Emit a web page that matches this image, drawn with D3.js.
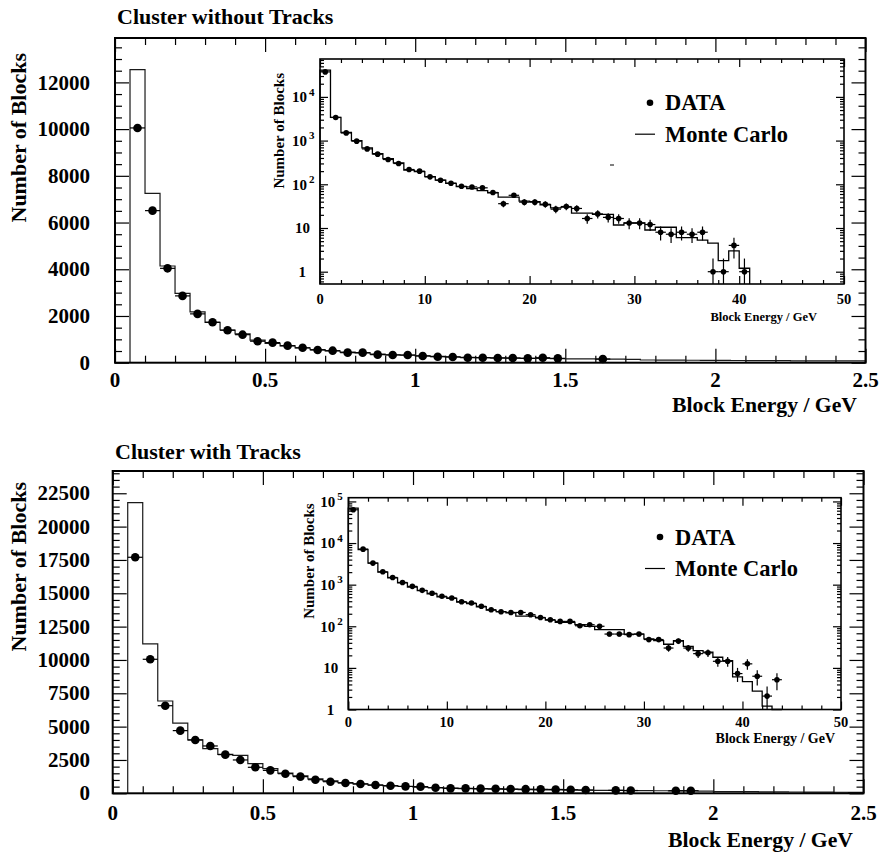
<!DOCTYPE html>
<html>
<head>
<meta charset="utf-8">
<script src="https://cdn.jsdelivr.net/npm/d3@7"></script>
<style>
  body { margin: 0; background: #fff; }
  svg { display: block; }
  text { font-family: "Liberation Serif", "Times New Roman", serif; font-weight: bold; fill: #000; }
</style>
</head>
<body>
<svg id="chart" width="880" height="853"></svg>
<script>
// ---------------- data ----------------
// main histograms: 0.05 GeV bins starting at 0.05 GeV
const mainBinStart = 0.05;
const mainBinWidth = 0.05;

const topMainMC = [12550, 7250, 4140, 2970, 2180, 1730, 1400, 1230, 970, 830,
  720, 630, 560, 500, 450, 420, 370, 340, 320, 290,
  270, 250, 230, 215, 205, 195, 185, 180, 170, 165,
  160, 155, 150, 145, 115, 112, 110, 105, 100, 98,
  95, 90, 88, 85, 82, 80, 78, 76, 74];
const topMainData = [10050, 6510, 4040, 2860, 2090, 1730, 1390, 1200, 920, 860,
  730, 640, 545, 515, 430, 430, 345, 330, 330, 290,
  255, 245, 215, 215, 200, 200, 186, 214, 186, null,
  null, 158, null, null, null, null, null, null, null, null,
  null, null, null, null, null, null, null, null, null];

const bottomMainMC = [21800, 11200, 6920, 5270, 4000, 3350, 2920, 2850, 2220, 1850,
  1520, 1300, 1080, 930, 800, 700, 620, 560, 510, 460,
  420, 385, 355, 330, 310, 290, 275, 262, 250, 240,
  230, 220, 212, 205, 198, 190, 182, 175, 168, 130,
  125, 120, 112, 105, 98, 92, 86, 80, 75];
const bottomMainData = [17700, 10050, 6570, 4700, 4000, 3550, 2900, 2500, 1950, 1720,
  1470, 1250, 1020, 870, 770, 700, 620, 570, 520, 500,
  420, 370, 370, 350, 340, 320, 310, 300, 290, 270,
  250, null, 220, 210, null, null, 195, 190, null, null,
  null, null, null, null, null, null, null, null, null];

// insets: 1 GeV bins starting at 0 GeV
const insetBinStart = 0;
const insetBinWidth = 1;

const topInsetMC = [41000, 3400, 1530, 1000, 680, 500, 385, 310, 210, 195,
  150, 125, 105, 88, 80, 72, 64, 51, 51, 41,
  40, 34, 29, 30, 22, 22, 20.5, 20.5, 11.7, 13,
  13, 9, 10.4, 10.4, 6, 6, 5.3, 4.5, 1.8, 3.0,
  1.2];
const topInsetData = [37300, 3380, 1500, 970, 645, 490, 369, 299, 218, 200,
  148, 124, 106, 90, 87, 83, 65, 36, 56, 39,
  39, 35, 27, 31, 28, 16.5, 21, 17.5, 16.5, 13,
  13, 12, 8, 7.2, 8, 7.2, 8, 1, 1, 4,
  1];

const bottomInsetMC = [69000, 7000, 3300, 2000, 1450, 1100, 880, 720, 600, 510,
  470, 380, 350, 295, 245, 225, 210, 175, 175, 160,
  140, 125, 125, 110, 100, 83, 83, 83, 65, 65,
  50, 45, 37, 45, 33, 26, 24, 18, 15, 6.1,
  4.7, 2.75, 1.2, 0];
const bottomInsetData = [63000, 7130, 3300, 2040, 1490, 1130, 910, 730, 620, 525,
  480, 390, 362, 302, 250, 224, 215, 215, 190, 163,
  144, 131, 131, 103, 109, 100, 65, 65, 63, 65,
  48, 48, 30, 44, 30, 22, 23, 14.4, 14.4, 7.3,
  12.5, 6.3, 2.1, 5.2];

// axis ticks and labels
const mainXTicks = [0, 0.5, 1, 1.5, 2, 2.5];
const topMainYTicks = [0, 2000, 4000, 6000, 8000, 10000, 12000];
const bottomMainYTicks = [0, 2500, 5000, 7500, 10000, 12500, 15000, 17500, 20000, 22500];
const insetXTicks = [0, 10, 20, 30, 40, 50];
const topInsetYTicks = [1, 10, 100, 1000, 10000];
const bottomInsetYTicks = [1, 10, 100, 1000, 10000, 100000];
const panelTitles = ["Cluster without Tracks", "Cluster with Tracks"];
const legendLabels = ["DATA", "Monte Carlo"];
const xAxisTitle = "Block Energy / GeV";
const yAxisTitle = "Number of Blocks";

// ---------------- drawing ----------------
const svg = d3.select("#chart");

function stepPath(values, start, width, x, y) {
  const pts = [[start, 0]];
  values.forEach((v, i) => pts.push([start + i * width, v]));
  pts.push([start + values.length * width, values[values.length - 1]]);
  pts.push([start + values.length * width, 0]);
  return d3.line().x(d => x(d[0])).y(d => y(d[1])).curve(d3.curveStepAfter)(pts);
}

function drawPoints(g, values, start, width, x, y, r) {
  const pts = values.map((v, i) => ({ v, i })).filter(d => d.v != null);
  const sel = g.append("g").selectAll("g").data(pts).join("g");
  sel.append("line")
    .attr("x1", d => x(start + d.i * width)).attr("x2", d => x(start + (d.i + 1) * width))
    .attr("y1", d => y(d.v)).attr("y2", d => y(d.v))
    .attr("stroke", "#000").attr("stroke-width", 1.2);
  sel.append("line")
    .attr("x1", d => x(start + (d.i + 0.5) * width)).attr("x2", d => x(start + (d.i + 0.5) * width))
    .attr("y1", d => y(Math.max(d.v - Math.sqrt(d.v), 0))).attr("y2", d => y(d.v + Math.sqrt(d.v)))
    .attr("stroke", "#000").attr("stroke-width", 1.2);
  sel.append("circle")
    .attr("cx", d => x(start + (d.i + 0.5) * width)).attr("cy", d => y(d.v))
    .attr("r", r).attr("fill", "#000");
}

// ticks on all four sides, pointing into the frame
function frameTicks(g, x, y, xMajor, xMinor, yMajor, yMinor, majLen, minLen) {
  const [x0, x1] = x.range();
  const [y0, y1] = y.range(); // y0 bottom, y1 top
  const style = s => s.call(a => a.select(".domain").remove())
    .call(a => a.selectAll("line").attr("stroke", "#000").attr("stroke-width", 1.2))
    .call(a => a.selectAll("text").remove());
  [[xMajor, majLen], [xMinor, minLen]].forEach(([vals, len]) => {
    g.append("g").attr("transform", `translate(0,${y0})`)
      .call(d3.axisBottom(x).tickValues(vals).tickSize(-len)).call(style);
    g.append("g").attr("transform", `translate(0,${y1})`)
      .call(d3.axisTop(x).tickValues(vals).tickSize(-len)).call(style);
  });
  [[yMajor, majLen], [yMinor, minLen]].forEach(([vals, len]) => {
    g.append("g").attr("transform", `translate(${x0},0)`)
      .call(d3.axisLeft(y).tickValues(vals).tickSize(-len)).call(style);
    g.append("g").attr("transform", `translate(${x1},0)`)
      .call(d3.axisRight(y).tickValues(vals).tickSize(-len)).call(style);
  });
}

function logMinors(domain) {
  const out = [];
  for (let e = Math.floor(Math.log10(domain[0])) - 1; e <= Math.ceil(Math.log10(domain[1])); e++) {
    for (let k = 2; k <= 9; k++) {
      const v = k * Math.pow(10, e);
      if (v >= domain[0] && v <= domain[1]) out.push(v);
    }
  }
  return out;
}

function drawPanel(p) {
  const g = svg.append("g");

  // ---- main linear histogram ----
  const x = d3.scaleLinear().domain([0, 2.5]).range(p.mainX);
  const y = d3.scaleLinear().domain([0, p.mainYMax]).range(p.mainY);
  const xMinor = d3.range(0, 2.5001, 0.1).map(v => +v.toFixed(2)).filter(v => !mainXTicks.includes(v));
  const yMinor = d3.range(0, p.mainYMax, 500).filter(v => !p.mainYTicks.includes(v));
  frameTicks(g, x, y, mainXTicks, xMinor, p.mainYTicks, yMinor, 14, 7);

  g.append("path").attr("d", stepPath(p.mainMC, mainBinStart, mainBinWidth, x, y))
    .attr("fill", "none").attr("stroke", "#1a1a1a").attr("stroke-width", 1.2);
  drawPoints(g, p.mainData, mainBinStart, mainBinWidth, x, y, 4.3);

  g.append("rect").attr("x", p.mainX[0]).attr("y", p.mainY[1])
    .attr("width", p.mainX[1] - p.mainX[0]).attr("height", p.mainY[0] - p.mainY[1])
    .attr("fill", "none").attr("stroke", "#000").attr("stroke-width", 2);

  g.append("g").selectAll("text").data(mainXTicks).join("text")
    .attr("x", d => x(d)).attr("y", p.mainXLabelY).attr("text-anchor", "middle")
    .attr("font-size", 21).text(d => d);
  g.append("g").selectAll("text").data(p.mainYTicks).join("text")
    .attr("x", 90).attr("y", d => y(d)).attr("dy", "0.34em").attr("text-anchor", "end")
    .attr("font-size", 21).text(d => d);

  g.append("text").attr("x", p.titlePos[0]).attr("y", p.titlePos[1])
    .attr("font-size", 22).text(p.title);
  g.append("text").attr("x", p.mainXTitle[0]).attr("y", p.mainXTitle[1])
    .attr("text-anchor", "end").attr("font-size", 21.7).text(xAxisTitle);
  g.append("text").attr("transform", `translate(${p.mainYTitle[0]},${p.mainYTitle[1]}) rotate(-90)`)
    .attr("text-anchor", "end").attr("font-size", 22).text(yAxisTitle);

  // ---- inset logarithmic histogram ----
  const ix = d3.scaleLinear().domain([0, 50]).range(p.insetX);
  const iy = d3.scaleLog().domain(p.insetYDomain).range(p.insetY).clamp(true);
  const gi = svg.append("g");
  gi.append("rect").attr("x", p.insetX[0]).attr("y", p.insetY[1])
    .attr("width", p.insetX[1] - p.insetX[0]).attr("height", p.insetY[0] - p.insetY[1])
    .attr("fill", "#fff");
  const ixMinor = d3.range(0, 51, 2).filter(v => !insetXTicks.includes(v));
  frameTicks(gi, ix, iy, insetXTicks, ixMinor, p.insetYTicks, logMinors(p.insetYDomain), 8, 4);

  gi.append("path").attr("d", stepPath(p.insetMC, insetBinStart, insetBinWidth, ix, iy))
    .attr("fill", "none").attr("stroke", "#000").attr("stroke-width", 1.3);
  drawPoints(gi, p.insetData, insetBinStart, insetBinWidth, ix, iy, 2.8);

  gi.append("rect").attr("x", p.insetX[0]).attr("y", p.insetY[1])
    .attr("width", p.insetX[1] - p.insetX[0]).attr("height", p.insetY[0] - p.insetY[1])
    .attr("fill", "none").attr("stroke", "#000").attr("stroke-width", 1.6);

  gi.append("g").selectAll("text").data(insetXTicks).join("text")
    .attr("x", d => ix(d)).attr("y", p.insetXLabelY).attr("text-anchor", "middle")
    .attr("font-size", 14.5).text(d => d);

  const yl = gi.append("g").selectAll("text").data(p.insetYTicks).join("text")
    .attr("x", d => d === 1 ? p.insetX[0] - 14 : p.insetX[0] - 10)
    .attr("y", d => iy(d)).attr("dy", "0.35em").attr("font-size", 15);
  yl.filter(d => d === 1).attr("text-anchor", "end").text("1");
  yl.filter(d => d === 10).attr("text-anchor", "end").text("10");
  yl.filter(d => d > 10).each(function (d) {
    const t = d3.select(this).attr("x", p.insetX[0] - 28);
    t.append("tspan").text("10");
    t.append("tspan").attr("dx", 2).attr("dy", "-0.6em").attr("font-size", 11)
      .text(Math.round(Math.log10(d)));
  });

  gi.append("text").attr("x", p.insetXTitle[0]).attr("y", p.insetXTitle[1])
    .attr("text-anchor", "end").attr("font-size", p.insetXTitleSize).text(xAxisTitle);
  gi.append("text").attr("transform", `translate(${p.insetYTitle[0]},${p.insetYTitle[1]}) rotate(-90)`)
    .attr("text-anchor", "end").attr("font-size", 15).text(yAxisTitle);

  // legend
  const lg = gi.append("g").attr("transform", `translate(${p.legend[0]},${p.legend[1]})`);
  lg.append("circle").attr("cx", 0).attr("cy", 0).attr("r", 3.3).attr("fill", "#000");
  lg.append("text").attr("x", 15).attr("y", 7.5).attr("font-size", 22.5).text(legendLabels[0]);
  lg.append("line").attr("x1", -15).attr("x2", 5).attr("y1", 31.5).attr("y2", 31.5)
    .attr("stroke", "#000").attr("stroke-width", 1.2);
  lg.append("text").attr("x", 15).attr("y", 39).attr("font-size", 22.5).text(legendLabels[1]);
  if (p.strayMark) {
    gi.append("line").attr("x1", p.strayMark[0]).attr("x2", p.strayMark[0] + 4)
      .attr("y1", p.strayMark[1]).attr("y2", p.strayMark[1])
      .attr("stroke", "#000").attr("stroke-width", 1);
  }
}

drawPanel({
  title: panelTitles[0], titlePos: [117, 24],
  mainX: [115, 865.5], mainY: [362.7, 38], mainYMax: 13900, mainYTicks: topMainYTicks,
  mainMC: topMainMC, mainData: topMainData,
  mainXLabelY: 387, mainXTitle: [857, 412], mainYTitle: [25.5, 53],
  insetX: [320, 844], insetY: [284, 59], insetYDomain: [0.523, 73600], insetYTicks: topInsetYTicks,
  insetMC: topInsetMC, insetData: topInsetData,
  insetXLabelY: 304, insetXTitle: [817, 321], insetXTitleSize: 12.5, insetYTitle: [283.5, 73],
  legend: [650, 102.7], strayMark: [610, 165]
});

drawPanel({
  title: panelTitles[1], titlePos: [115, 459],
  mainX: [112.7, 863.5], mainY: [793.3, 471], mainYMax: 24170, mainYTicks: bottomMainYTicks,
  mainMC: bottomMainMC, mainData: bottomMainData,
  mainXLabelY: 820, mainXTitle: [853, 847], mainYTitle: [25.5, 482],
  insetX: [348.3, 841], insetY: [709.5, 497.7], insetYDomain: [1, 123000], insetYTicks: bottomInsetYTicks,
  insetMC: bottomInsetMC, insetData: bottomInsetData,
  insetXLabelY: 726.7, insetXTitle: [835, 743], insetXTitleSize: 14, insetYTitle: [313.5, 503.3],
  legend: [660, 537], strayMark: null
});
</script>
</body>
</html>
